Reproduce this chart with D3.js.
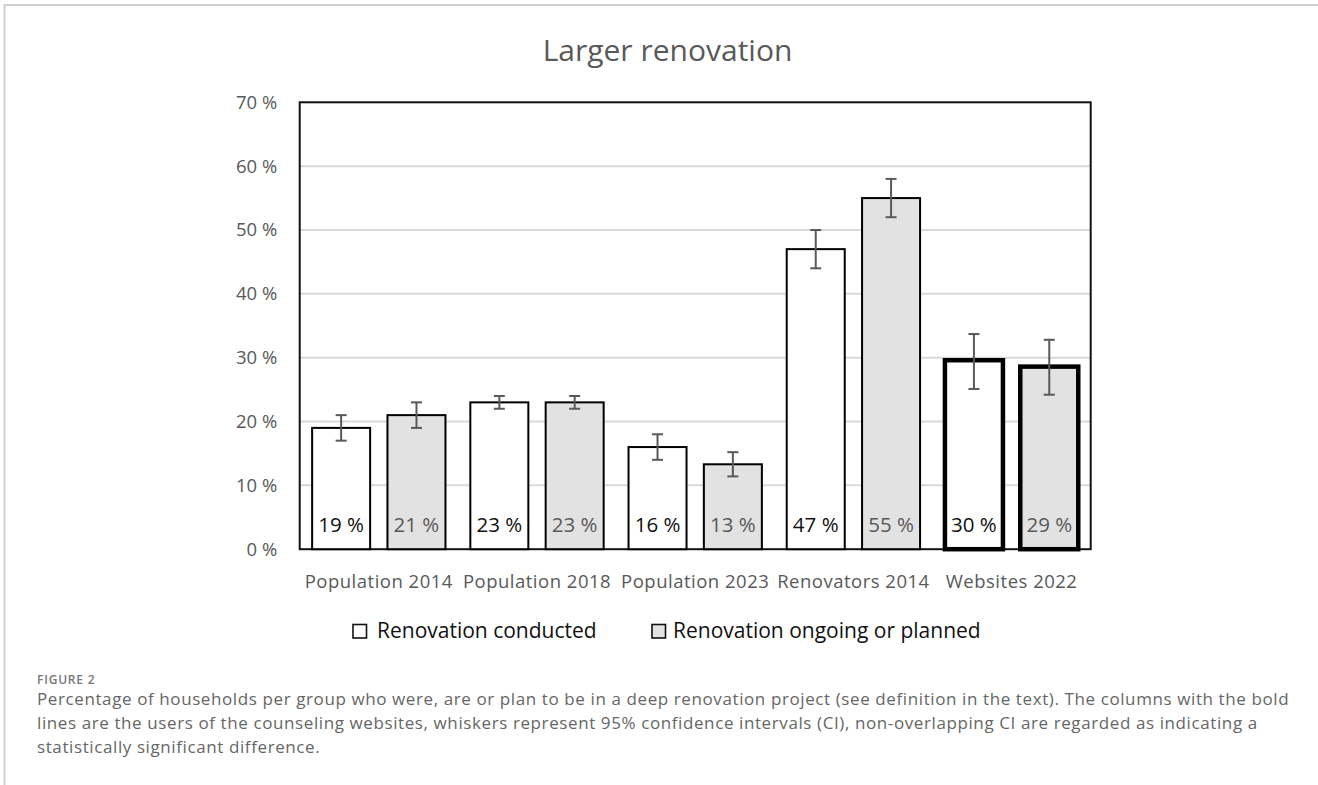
<!DOCTYPE html>
<html>
<head>
<meta charset="utf-8">
<script src="https://cdn.jsdelivr.net/npm/d3@7"></script>
<style>
  html, body { margin: 0; padding: 0; background: #fff; }
  svg { display: block; }
  text { font-family: "Open Sans", "Noto Sans", sans-serif; }
</style>
</head>
<body>
<svg id="chart" width="1318" height="785"></svg>
<script>
// ---- data ----
const categories = ["Population 2014", "Population 2018", "Population 2023", "Renovators 2014", "Websites 2022"];
const seriesNames = ["Renovation conducted", "Renovation ongoing or planned"];
const conducted     = [19, 23, 16, 47, 29.6];
const conductedLow  = [17, 22, 14, 44, 25.1];
const conductedHigh = [21, 24, 18, 50, 33.7];
const ongoing       = [21, 23, 13.3, 55, 28.6];
const ongoingLow    = [19, 22, 11.4, 52, 24.2];
const ongoingHigh   = [23, 24, 15.2, 58, 32.8];
const boldGroups = ["Websites 2022"];
const yTicks = [0, 10, 20, 30, 40, 50, 60, 70];
const chartTitle = "Larger renovation";
const figureLabel = "FIGURE 2";
const captionLines = [
  "Percentage of households per group who were, are or plan to be in a deep renovation project (see definition in the text). The columns with the bold",
  "lines are the users of the counseling websites, whiskers represent 95% confidence intervals (CI), non-overlapping CI are regarded as indicating a",
  "statistically significant difference."
];

// ---- styling ----
const fills = ["#ffffff", "#e3e2e3"];
const labelColors = ["#111111", "#595959"];
const greyText = "#595959";

const rows = [];
categories.forEach((c, i) => {
  rows.push({ cat: c, series: seriesNames[0], si: 0, value: conducted[i], low: conductedLow[i], high: conductedHigh[i] });
  rows.push({ cat: c, series: seriesNames[1], si: 1, value: ongoing[i], low: ongoingLow[i], high: ongoingHigh[i] });
});

const svg = d3.select("#chart");

// page frame lines
svg.append("line").attr("x1", 4).attr("x2", 1318).attr("y1", 5).attr("y2", 5)
  .attr("stroke", "#cfcfcf").attr("stroke-width", 2);
svg.append("line").attr("x1", 4.5).attr("x2", 4.5).attr("y1", 5).attr("y2", 785)
  .attr("stroke", "#cfcfcf").attr("stroke-width", 2);

// plot area
const plot = { left: 299.7, right: 1090.7, top: 102.3, bottom: 549.2 };

const y = d3.scaleLinear().domain([0, 70]).range([plot.bottom, plot.top]);
const x0 = d3.scaleBand().domain(categories).range([plot.left, plot.right]);
const x1 = d3.scaleBand().domain(seriesNames).range([0, x0.bandwidth()])
  .paddingInner(0.23).paddingOuter(0.165);

// title
svg.append("text")
  .attr("x", 667.5).attr("y", 61)
  .attr("text-anchor", "middle")
  .attr("font-size", 30)
  .attr("fill", greyText)
  .text(chartTitle);

// gridlines
svg.append("g")
  .selectAll("line")
  .data(yTicks.filter(t => t > 0 && t < 70))
  .join("line")
  .attr("x1", plot.left).attr("x2", plot.right)
  .attr("y1", d => y(d)).attr("y2", d => y(d))
  .attr("stroke", "#d9d9d9").attr("stroke-width", 2);

// y axis labels
const yAxis = svg.append("g")
  .attr("transform", `translate(${plot.left},0)`)
  .call(d3.axisLeft(y).tickValues(yTicks).tickSize(0).tickPadding(22.4).tickFormat(d => d + " %"));
yAxis.select(".domain").remove();
yAxis.selectAll("text")
  .attr("font-family", "'Open Sans', sans-serif")
  .attr("font-size", 18.5)
  .attr("fill", greyText);

// x axis labels
const xAxis = svg.append("g")
  .attr("transform", `translate(0,${plot.bottom})`)
  .call(d3.axisBottom(x0).tickSize(0).tickPadding(25.8));
xAxis.select(".domain").remove();
xAxis.selectAll("text")
  .attr("font-family", "'Open Sans', sans-serif")
  .attr("font-size", 18.5)
  .attr("letter-spacing", 0.5)
  .attr("fill", greyText);

// plot frame
svg.append("rect")
  .attr("x", plot.left).attr("y", plot.top)
  .attr("width", plot.right - plot.left).attr("height", plot.bottom - plot.top)
  .attr("fill", "none").attr("stroke", "#111").attr("stroke-width", 2);

// bars
const barX = d => x0(d.cat) + x1(d.series);
svg.append("g")
  .selectAll("rect")
  .data(rows)
  .join("rect")
  .attr("x", barX)
  .attr("y", d => y(d.value))
  .attr("width", x1.bandwidth())
  .attr("height", d => y(0) - y(d.value))
  .attr("fill", d => fills[d.si])
  .attr("stroke", "#000")
  .attr("stroke-width", d => boldGroups.includes(d.cat) ? 4.5 : 2);

// error bars
const capHalf = 5.5;
const eb = svg.append("g").attr("stroke", "#595959").attr("stroke-width", 2);
const ebG = eb.selectAll("g").data(rows).join("g");
ebG.append("line")
  .attr("x1", d => barX(d) + x1.bandwidth() / 2).attr("x2", d => barX(d) + x1.bandwidth() / 2)
  .attr("y1", d => y(d.low)).attr("y2", d => y(d.high));
ebG.append("line")
  .attr("x1", d => barX(d) + x1.bandwidth() / 2 - capHalf).attr("x2", d => barX(d) + x1.bandwidth() / 2 + capHalf)
  .attr("y1", d => y(d.high)).attr("y2", d => y(d.high));
ebG.append("line")
  .attr("x1", d => barX(d) + x1.bandwidth() / 2 - capHalf).attr("x2", d => barX(d) + x1.bandwidth() / 2 + capHalf)
  .attr("y1", d => y(d.low)).attr("y2", d => y(d.low));

// value labels inside the bars
svg.append("g")
  .selectAll("text")
  .data(rows)
  .join("text")
  .attr("x", d => barX(d) + x1.bandwidth() / 2)
  .attr("y", 531.5)
  .attr("text-anchor", "middle")
  .attr("font-size", 20.5)
  .attr("fill", d => labelColors[d.si])
  .text(d => d3.format(".0f")(d.value) + " %");

// legend
const legendItems = [
  { name: seriesNames[0], fill: fills[0], sx: 353, tx: 377 },
  { name: seriesNames[1], fill: fills[1], sx: 652, tx: 673 }
];
const lg = svg.append("g").selectAll("g").data(legendItems).join("g");
lg.append("rect")
  .attr("x", d => d.sx).attr("y", 624.5)
  .attr("width", 13.5).attr("height", 13.5)
  .attr("fill", d => d.fill).attr("stroke", "#111").attr("stroke-width", 1.6);
lg.append("text")
  .attr("x", d => d.tx).attr("y", 637.5)
  .attr("font-size", 21)
  .attr("fill", "#111")
  .text(d => d.name);

// figure caption
svg.append("text")
  .attr("x", 37).attr("y", 683.5)
  .attr("font-size", 12)
  .attr("font-weight", 600)
  .attr("letter-spacing", 0.8)
  .attr("fill", "#777")
  .text(figureLabel);

svg.append("g")
  .selectAll("text")
  .data(captionLines)
  .join("text")
  .attr("x", 37)
  .attr("y", (d, i) => 705 + i * 24)
  .attr("font-size", 17)
  .attr("letter-spacing", 0.6)
  .attr("fill", "#666")
  .text(d => d);
</script>
</body>
</html>
